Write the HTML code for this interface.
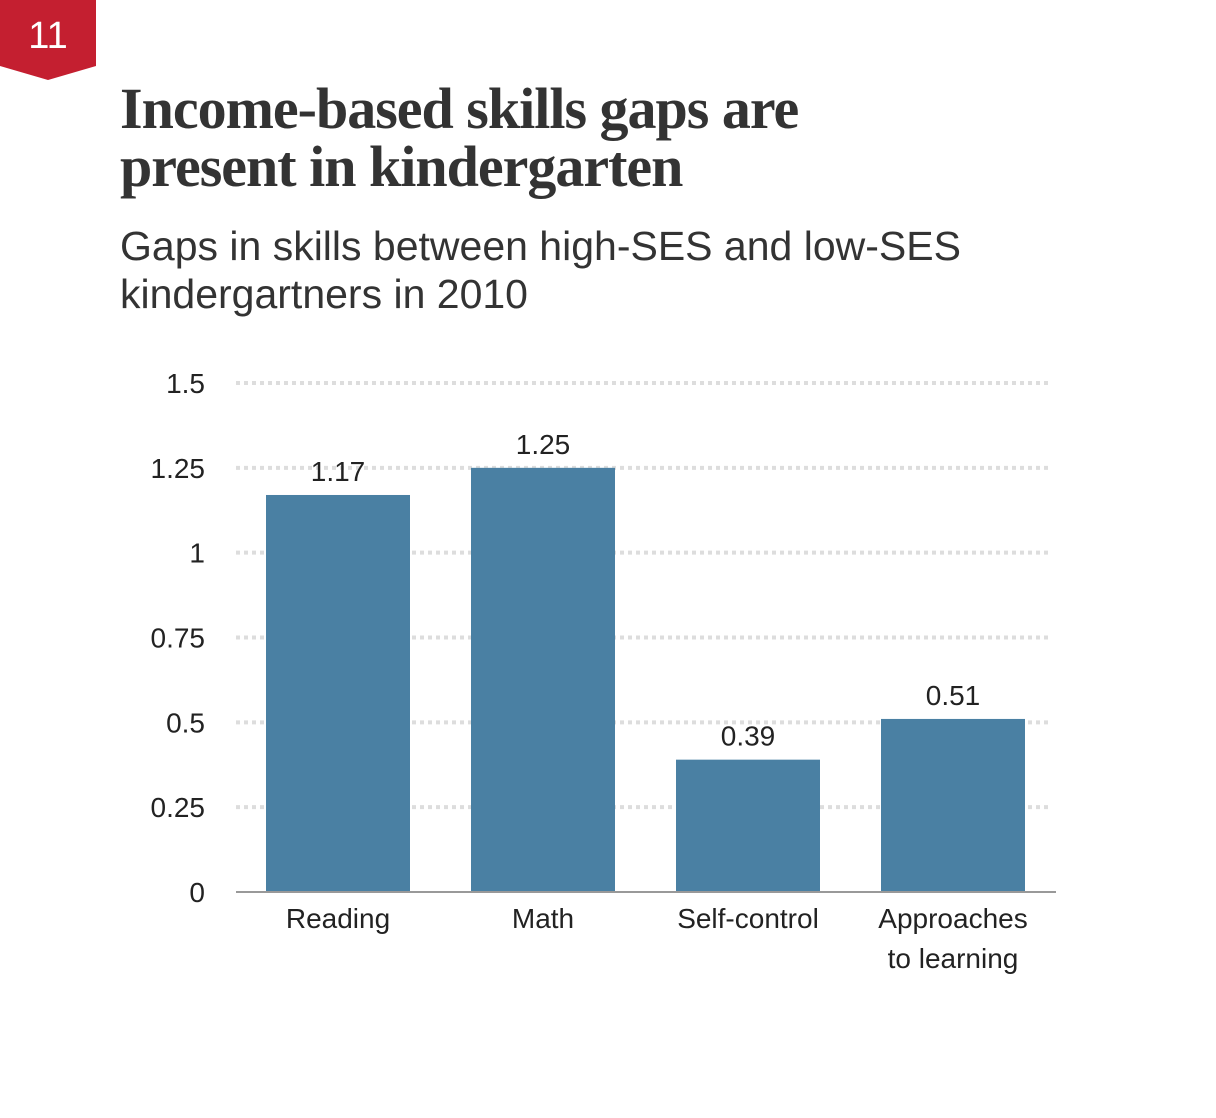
<!DOCTYPE html>
<html><head><meta charset="utf-8">
<style>
body{margin:0;background:#fff;width:1216px;height:1118px;overflow:hidden;position:relative;font-family:"Liberation Sans",sans-serif;color:#222}
.title{position:absolute;left:120px;top:80px;font-family:"Liberation Serif",serif;font-weight:bold;font-size:58px;line-height:58px;color:#333;letter-spacing:-1px}
.sub{position:absolute;left:120px;top:222px;font-size:41px;line-height:48px;color:#333}
</style></head><body>
<svg style="position:absolute;left:0;top:0" width="96" height="82"><polygon points="0,0 96,0 96,66 48,80 0,66" fill="#c41f30"/><text x="48" y="48" text-anchor="middle" fill="#fff" font-family="Liberation Sans" font-size="38">11</text></svg>
<div class="title">Income-based skills gaps are<br>present in kindergarten</div>
<div class="sub">Gaps in skills between high-SES and low-SES<br>kindergartners in 2010</div>
<svg id="chart" style="position:absolute;left:0;top:0" width="1216" height="1118"></svg>
<script>
const categories=[["Reading"],["Math"],["Self-control"],["Approaches","to learning"]];
const values=[1.17,1.25,0.39,0.51];
const valueLabels=["1.17","1.25","0.39","0.51"];
const ticks=[0,0.25,0.5,0.75,1,1.25,1.5];
const tickLabels=["0","0.25","0.5","0.75","1","1.25","1.5"];
const svg=document.getElementById('chart');const NS='http://www.w3.org/2000/svg';
const y0=892,yTop=383,vmax=1.5,xL=236,xR=1052,bandStart=266,step=205,bw=144;
const y=v=>y0-(v/vmax)*(y0-yTop);
const x=i=>bandStart+i*step;
function mk(t,a){const e=document.createElementNS(NS,t);for(const k in a)e.setAttribute(k,a[k]);svg.appendChild(e);return e;}
ticks.forEach((t,i)=>{
 if(t>0){const g=mk('line',{x1:xL,x2:xR,y1:y(t),y2:y(t),stroke:'#ddd','stroke-width':4,'stroke-dasharray':'4,4'});
 
 }
 const tx=mk('text',{x:205,y:y(t)+10,'text-anchor':'end','font-size':28,fill:'#222','font-family':'Liberation Sans'});
 tx.textContent=tickLabels[i];
 
 
});
values.forEach((v,i)=>{
 const r=mk('rect',{x:x(i),y:y(v),width:bw,height:y0-y(v),fill:'#4a80a3'});
 
 
 const l=mk('text',{x:x(i)+bw/2,y:y(v)-14,'text-anchor':'middle','font-size':28,fill:'#222','font-family':'Liberation Sans'});
 l.textContent=valueLabels[i];
 
 
 categories[i].forEach((s,j)=>{
  const c=mk('text',{x:x(i)+bw/2,y:928+j*40,'text-anchor':'middle','font-size':28,fill:'#222','font-family':'Liberation Sans'});
  c.textContent=s;
  
  
 });
});
const ax=mk('line',{x1:xL,x2:1056,y1:y0,y2:y0,stroke:'#999','stroke-width':2});


</script>
</body></html>
